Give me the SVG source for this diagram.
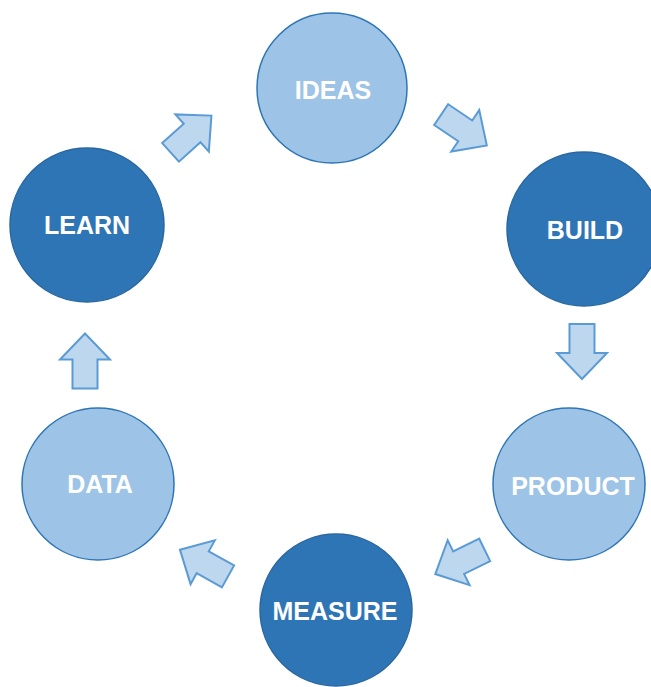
<svg xmlns="http://www.w3.org/2000/svg" width="651" height="687" viewBox="0 0 651 687">
<defs>
<style>
.dark{fill:#2E75B6;stroke:#2A67A0;stroke-width:1.5}
.light{fill:#9DC3E6;stroke:#2E75B6;stroke-width:1.5}
.lbl{font-family:"Liberation Sans",Arial,sans-serif;font-weight:bold;font-size:25px;fill:#FFFFFF;text-anchor:middle;dominant-baseline:central}
.arr{fill:#BDD7EE;stroke:#5B9BD5;stroke-width:2;stroke-linejoin:miter}
</style>
<path id="blk" d="M -27.5,-12.5 L 1.5,-12.5 L 1.5,-25 L 27.5,0 L 1.5,25 L 1.5,12.5 L -27.5,12.5 Z"/>
</defs>
<rect width="651" height="687" fill="#FFFFFF"/>
<g id="connectors">
<use href="#blk" class="arr" transform="translate(191,134) rotate(-42)"/>
<use href="#blk" class="arr" transform="translate(464,130) rotate(34)"/>
<use href="#blk" class="arr" transform="translate(582,351.5) rotate(90)"/>
<use href="#blk" class="arr" transform="translate(460,562) rotate(154)"/>
<use href="#blk" class="arr" transform="translate(204,563) rotate(209)"/>
<use href="#blk" class="arr" transform="translate(85,361) rotate(-90)"/>
</g>
<g id="ideas"><circle class="light" cx="332" cy="88" r="75"/><text class="lbl" x="333" y="90">IDEAS</text></g>
<g id="build"><circle class="dark" cx="584" cy="229" r="77"/><text class="lbl" x="585" y="230">BUILD</text></g>
<g id="product"><circle class="light" cx="569" cy="484" r="76"/><text class="lbl" x="573" y="486">PRODUCT</text></g>
<g id="measure"><circle class="dark" cx="336" cy="610" r="76"/><text class="lbl" x="335" y="611">MEASURE</text></g>
<g id="data"><circle class="light" cx="98" cy="484" r="76"/><text class="lbl" x="100" y="484">DATA</text></g>
<g id="learn"><circle class="dark" cx="87" cy="225" r="77"/><text class="lbl" x="87" y="225">LEARN</text></g>
</svg>
